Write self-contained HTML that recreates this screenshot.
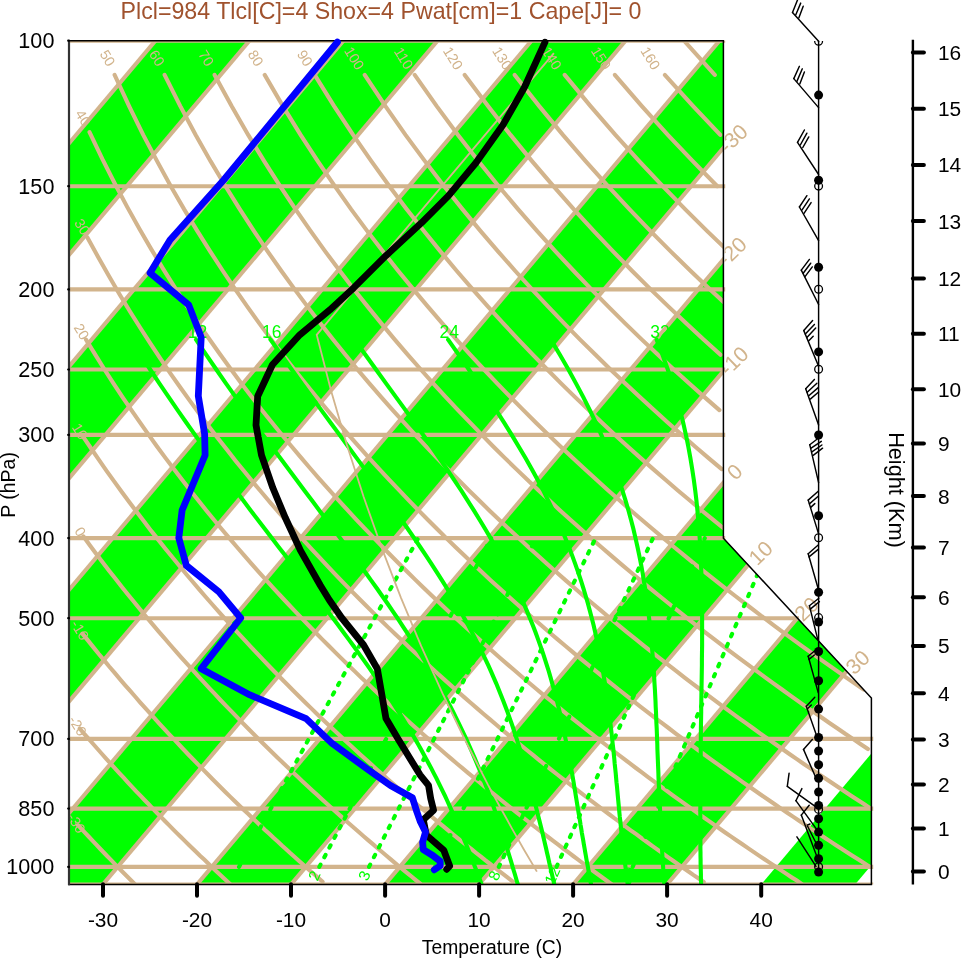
<!DOCTYPE html><html><head><meta charset="utf-8"><title>Skew-T</title><style>html,body{margin:0;padding:0;background:#fff}svg{display:block}</style></head><body><svg width="961" height="958" viewBox="0 0 961 958" font-family="Liberation Sans, sans-serif">
<clipPath id="rlab"><rect x="724.6" y="0" width="300" height="958"/></clipPath>
<clipPath id="clip"><polygon points="69.0,884.4 69.0,40.7 723.7,40.7 723.7,538.2 871.7,698.1 871.7,884.4"/></clipPath>
<g clip-path="url(#clip)">
<polygon points="-595.5,932.3 222.8,-39.3 316.8,-39.3 -501.5,932.3" fill="#00ff00"/>
<polygon points="-407.5,932.3 410.8,-39.3 504.9,-39.3 -313.5,932.3" fill="#00ff00"/>
<polygon points="-219.4,932.3 598.9,-39.3 692.9,-39.3 -125.4,932.3" fill="#00ff00"/>
<polygon points="-31.4,932.3 786.9,-39.3 881.0,-39.3 62.6,932.3" fill="#00ff00"/>
<polygon points="156.7,932.3 975.0,-39.3 1069.0,-39.3 250.7,932.3" fill="#00ff00"/>
<polygon points="344.7,932.3 1163.0,-39.3 1257.1,-39.3 438.7,932.3" fill="#00ff00"/>
<polygon points="532.8,932.3 1351.1,-39.3 1445.1,-39.3 626.8,932.3" fill="#00ff00"/>
<polygon points="720.8,932.3 1539.1,-39.3 1633.2,-39.3 814.8,932.3" fill="#00ff00"/>
<g fill="none" stroke="#d2b48c" stroke-width="4.1">
<polyline points="-595.5,932.3 222.8,-39.3"/>
<polyline points="-501.5,932.3 316.8,-39.3"/>
<polyline points="-407.5,932.3 410.8,-39.3"/>
<polyline points="-313.5,932.3 504.9,-39.3"/>
<polyline points="-219.4,932.3 598.9,-39.3"/>
<polyline points="-125.4,932.3 692.9,-39.3"/>
<polyline points="-31.4,932.3 786.9,-39.3"/>
<polyline points="62.6,932.3 881.0,-39.3"/>
<polyline points="156.7,932.3 975.0,-39.3"/>
<polyline points="250.7,932.3 1069.0,-39.3"/>
<polyline points="344.7,932.3 1163.0,-39.3"/>
<polyline points="438.7,932.3 1257.1,-39.3"/>
<polyline points="532.8,932.3 1351.1,-39.3"/>
<polyline points="626.8,932.3 1445.1,-39.3"/>
</g>
</g>
<g clip-path="url(#rlab)">
<text x="733.4" y="138.8" font-size="21.3" fill="#d2b48c" text-anchor="middle" dominant-baseline="central" transform="rotate(-44.0 733.4 138.8)">-30</text>
</g>
<g clip-path="url(#rlab)">
<text x="732.3" y="251.8" font-size="21.3" fill="#d2b48c" text-anchor="middle" dominant-baseline="central" transform="rotate(-44.0 732.3 251.8)">-20</text>
</g>
<g clip-path="url(#rlab)">
<text x="734.1" y="361.3" font-size="21.3" fill="#d2b48c" text-anchor="middle" dominant-baseline="central" transform="rotate(-44.0 734.1 361.3)">-10</text>
</g>
<g clip-path="url(#rlab)">
<text x="735.0" y="472.2" font-size="21.3" fill="#d2b48c" text-anchor="middle" dominant-baseline="central" transform="rotate(-44.0 735.0 472.2)">0</text>
</g>
<g clip-path="url(#rlab)">
<text x="760.9" y="553.3" font-size="21.3" fill="#d2b48c" text-anchor="middle" dominant-baseline="central" transform="rotate(-44.0 760.9 553.3)">10</text>
</g>
<g clip-path="url(#rlab)">
<text x="806.8" y="609.2" font-size="21.3" fill="#d2b48c" text-anchor="middle" dominant-baseline="central" transform="rotate(-44.0 806.8 609.2)">20</text>
</g>
<g clip-path="url(#rlab)">
<text x="858.0" y="662.4" font-size="21.3" fill="#d2b48c" text-anchor="middle" dominant-baseline="central" transform="rotate(-44.0 858.0 662.4)">30</text>
</g>
<g fill="none" stroke="#d2b48c" stroke-width="4.1">
<polyline points="69.0,883.4 873.2,883.4" stroke-width="2"/>
<polyline points="69.0,866.9 873.2,866.9"/>
<polyline points="69.0,808.6 873.2,808.6"/>
<polyline points="69.0,738.9 873.2,738.9"/>
<polyline points="69.0,618.2 798.9,618.2"/>
<polyline points="69.0,538.1 725.2,538.1"/>
<polyline points="69.0,434.9 725.2,434.9"/>
<polyline points="69.0,369.5 725.2,369.5"/>
<polyline points="69.0,289.4 725.2,289.4"/>
<polyline points="69.0,186.2 725.2,186.2"/>
<polyline points="69.0,41.7 725.2,41.7" stroke-width="2"/>
</g>
<g clip-path="url(#clip)"><g fill="none" stroke="#d2b48c" stroke-width="4.1" stroke-linecap="round">
<polyline points="78.0,825.1 81.7,829.1 85.4,833.1 89.1,837.0 92.7,840.9 96.3,844.7 99.9,848.5 103.5,852.2 107.1,856.0 110.7,859.6 114.2,863.3 117.7,866.9 121.2,870.5 124.7,874.0 128.2,877.5 131.7,881.0 135.1,884.4"/>
<polyline points="79.7,728.5 84.2,733.8 88.7,738.9 93.2,744.0 97.6,749.0 102.0,754.0 106.3,758.9 110.7,763.7 115.0,768.4 119.3,773.1 123.6,777.7 127.8,782.3 132.0,786.8 136.2,791.3 140.4,795.7 144.5,800.0 148.7,804.3 152.8,808.6 156.8,812.8 160.9,816.9 164.9,821.0 169.0,825.1 172.9,829.1 176.9,833.1 180.9,837.0 184.8,840.9 188.7,844.7 192.6,848.5 196.5,852.2 200.3,856.0 204.2,859.6 208.0,863.3 211.8,866.9 215.5,870.5 219.3,874.0 223.0,877.5 226.8,881.0 230.5,884.4"/>
<polyline points="82.4,633.6 87.9,640.4 93.3,647.1 98.6,653.7 104.0,660.1 109.2,666.5 114.5,672.7 119.7,678.8 124.8,684.8 130.0,690.7 135.1,696.5 140.1,702.3 145.1,707.9 150.1,713.4 155.1,718.9 160.0,724.3 164.9,729.6 169.7,734.8 174.6,739.9 179.4,745.0 184.1,750.0 188.8,755.0 193.5,759.8 198.2,764.6 202.9,769.4 207.5,774.0 212.1,778.7 216.6,783.2 221.1,787.7 225.6,792.2 230.1,796.6 234.6,800.9 239.0,805.2 243.4,809.4 247.8,813.6 252.1,817.8 256.5,821.8 260.8,825.9 265.0,829.9 269.3,833.8 273.5,837.8 277.7,841.6 281.9,845.5 286.1,849.2 290.2,853.0 294.4,856.7 298.5,860.4 302.5,864.0 306.6,867.6 310.6,871.2 314.7,874.7 318.7,878.2 322.6,881.7"/>
<polyline points="83.3,536.3 89.8,545.2 96.3,553.9 102.8,562.4 109.1,570.7 115.5,578.8 121.7,586.7 127.9,594.5 134.1,602.0 140.2,609.5 146.2,616.8 152.2,623.9 158.1,630.9 164.0,637.7 169.9,644.5 175.7,651.1 181.4,657.6 187.1,663.9 192.8,670.2 198.4,676.4 204.0,682.4 209.5,688.4 215.0,694.2 220.4,700.0 225.8,705.6 231.2,711.2 236.5,716.7 241.8,722.1 247.1,727.5 252.3,732.7 257.5,737.9 262.6,743.0 267.7,748.0 272.8,753.0 277.9,757.9 282.9,762.7 287.9,767.5 292.8,772.2 297.7,776.8 302.6,781.4 307.5,785.9 312.3,790.4 317.1,794.8 321.9,799.2 326.6,803.5 331.3,807.7 336.0,811.9 340.7,816.1 345.3,820.2 349.9,824.3 354.5,828.3 359.1,832.3 363.6,836.2 368.1,840.1 372.6,843.9 377.0,847.7 381.5,851.5 385.9,855.2 390.2,858.9 394.6,862.6 398.9,866.2 403.3,869.8 407.6,873.3 411.8,876.8 416.1,880.3 420.3,883.7"/>
<polyline points="83.6,437.3 91.5,449.0 99.3,460.3 106.9,471.3 114.5,481.9 122.0,492.3 129.4,502.3 136.8,512.1 144.1,521.6 151.2,530.9 158.4,539.9 165.4,548.7 172.4,557.3 179.3,565.7 186.1,574.0 192.9,582.0 199.6,589.8 206.2,597.5 212.8,605.0 219.3,612.4 225.8,619.6 232.2,626.7 238.6,633.6 244.9,640.4 251.1,647.1 257.3,653.7 263.4,660.1 269.5,666.5 275.6,672.7 281.5,678.8 287.5,684.8 293.4,690.7 299.2,696.5 305.0,702.3 310.8,707.9 316.5,713.4 322.2,718.9 327.8,724.3 333.4,729.6 339.0,734.8 344.5,739.9 350.0,745.0 355.4,750.0 360.8,755.0 366.2,759.8 371.5,764.6 376.8,769.4 382.1,774.0 387.3,778.7 392.5,783.2 397.7,787.7 402.8,792.2 407.9,796.6 413.0,800.9 418.0,805.2 423.0,809.4 428.0,813.6 433.0,817.8 437.9,821.8 442.8,825.9 447.6,829.9 452.4,833.8 457.3,837.8 462.0,841.6 466.8,845.5 471.5,849.2 476.2,853.0 480.9,856.7 485.5,860.4 490.2,864.0 494.8,867.6 499.3,871.2 503.9,874.7 508.4,878.2 512.9,881.7"/>
<polyline points="86.0,339.6 95.4,354.8 104.5,369.5 113.6,383.6 122.5,397.1 131.4,410.1 140.1,422.7 148.7,434.9 157.2,446.7 165.6,458.1 173.9,469.1 182.1,479.8 190.2,490.2 198.2,500.3 206.1,510.2 213.9,519.7 221.6,529.0 229.3,538.1 236.9,547.0 244.4,555.6 251.8,564.1 259.1,572.3 266.4,580.4 273.6,588.3 280.7,596.0 287.7,603.5 294.7,610.9 301.6,618.2 308.5,625.3 315.3,632.3 322.0,639.1 328.7,645.8 335.3,652.4 341.9,658.9 348.4,665.2 354.8,671.4 361.2,677.6 367.6,683.6 373.8,689.5 380.1,695.4 386.3,701.1 392.4,706.8 398.5,712.3 404.6,717.8 410.6,723.2 416.5,728.5 422.5,733.8 428.3,738.9 434.2,744.0 440.0,749.0 445.7,754.0 451.4,758.9 457.1,763.7 462.7,768.4 468.3,773.1 473.9,777.7 479.4,782.3 484.9,786.8 490.3,791.3 495.7,795.7 501.1,800.0 506.5,804.3 511.8,808.6 517.1,812.8 522.3,816.9 527.5,821.0 532.7,825.1 537.9,829.1 543.0,833.1 548.1,837.0 553.2,840.9 558.2,844.7 563.2,848.5 568.2,852.2 573.2,856.0 578.1,859.6 583.0,863.3 587.9,866.9 592.7,870.5 597.5,874.0 602.3,877.5 607.1,881.0 611.9,884.4"/>
<polyline points="87.4,237.4 98.4,257.5 109.2,276.6 119.8,294.8 130.3,312.0 140.7,328.5 150.8,344.2 160.9,359.3 170.7,373.8 180.5,387.7 190.1,401.1 199.5,414.0 208.9,426.4 218.1,438.5 227.2,450.1 236.1,461.4 245.0,472.3 253.7,483.0 262.4,493.3 270.9,503.3 279.4,513.1 287.7,522.5 295.9,531.8 304.1,540.8 312.1,549.6 320.1,558.2 328.0,566.6 335.8,574.8 343.5,582.8 351.1,590.6 358.7,598.3 366.2,605.8 373.6,613.1 380.9,620.3 388.2,627.4 395.4,634.3 402.6,641.1 409.6,647.8 416.7,654.3 423.6,660.8 430.5,667.1 437.3,673.3 444.1,679.4 450.8,685.4 457.5,691.3 464.1,697.1 470.6,702.8 477.1,708.4 483.6,714.0 490.0,719.4 496.3,724.8 502.6,730.1 508.9,735.3 515.1,740.5 521.3,745.5 527.4,750.5 533.5,755.4 539.5,760.3 545.5,765.1 551.4,769.8 557.3,774.5 563.2,779.1 569.0,783.7 574.8,788.2 580.6,792.6 586.3,797.0 592.0,801.3 597.6,805.6 603.2,809.8 608.8,814.0 614.3,818.2 619.8,822.2 625.3,826.3 630.7,830.3 636.2,834.2 641.5,838.1 646.9,842.0 652.2,845.8 657.5,849.6 662.7,853.4 667.9,857.1 673.1,860.7 678.3,864.4 683.4,868.0 688.5,871.5 693.6,875.1 698.7,878.5 703.7,882.0"/>
<polyline points="89.5,132.1 102.3,158.9 114.9,183.8 127.3,207.1 139.5,229.0 151.5,249.6 163.3,269.1 174.9,287.6 186.2,305.2 197.4,322.0 208.5,338.0 219.3,353.3 230.0,368.0 240.5,382.2 250.8,395.8 261.0,408.9 271.1,421.5 281.0,433.7 290.8,445.5 300.4,456.9 309.9,468.0 319.3,478.8 328.5,489.2 337.7,499.3 346.7,509.2 355.6,518.8 364.4,528.1 373.1,537.2 381.7,546.1 390.2,554.8 398.6,563.2 407.0,571.5 415.2,579.6 423.3,587.5 431.4,595.2 439.4,602.8 447.3,610.2 455.1,617.5 462.8,624.6 470.5,631.6 478.1,638.4 485.6,645.1 493.1,651.7 500.4,658.2 507.8,664.6 515.0,670.8 522.2,677.0 529.3,683.0 536.4,689.0 543.4,694.8 550.4,700.5 557.3,706.2 564.1,711.8 570.9,717.3 577.6,722.7 584.3,728.0 590.9,733.2 597.5,738.4 604.0,743.5 610.5,748.5 616.9,753.5 623.3,758.4 629.6,763.2 635.9,768.0 642.2,772.6 648.4,777.3 654.6,781.9 660.7,786.4 666.8,790.8 672.8,795.3 678.8,799.6 684.8,803.9 690.7,808.2 696.6,812.4 702.4,816.5 708.3,820.6 714.0,824.7 719.8,828.7 725.5,832.7 731.2,836.6 736.8,840.5 742.4,844.3 748.0,848.1 753.5,851.9 759.0,855.6 764.5,859.3 770.0,862.9 775.4,866.5 780.8,870.1 786.1,873.6 791.5,877.2 796.8,880.6 802.0,884.1"/>
<polyline points="114.6,74.9 129.1,106.1 143.2,134.9 157.2,161.4 170.8,186.2 184.2,209.4 197.4,231.1 210.3,251.6 222.9,271.0 235.3,289.4 247.5,306.9 259.5,323.6 271.3,339.6 282.9,354.8 294.3,369.5 305.5,383.6 316.5,397.1 327.4,410.1 338.1,422.7 348.6,434.9 359.0,446.7 369.2,458.1 379.3,469.1 389.3,479.8 399.1,490.2 408.8,500.3 418.3,510.2 427.8,519.7 437.1,529.0 446.3,538.1 455.4,547.0 464.4,555.6 473.3,564.1 482.1,572.3 490.8,580.4 499.5,588.3 508.0,596.0 516.4,603.5 524.7,610.9 533.0,618.2 541.2,625.3 549.2,632.3 557.3,639.1 565.2,645.8 573.1,652.4 580.8,658.9 588.6,665.2 596.2,671.4 603.8,677.6 611.3,683.6 618.7,689.5 626.1,695.4 633.4,701.1 640.7,706.8 647.9,712.3 655.0,717.8 662.1,723.2 669.2,728.5 676.1,733.8 683.0,738.9 689.9,744.0 696.7,749.0 703.5,754.0 710.2,758.9 716.9,763.7 723.5,768.4 730.1,773.1 736.6,777.7 743.1,782.3 749.5,786.8 755.9,791.3 762.3,795.7 768.6,800.0 774.8,804.3 781.1,808.6 787.2,812.8 793.4,816.9 799.5,821.0 805.6,825.1 811.6,829.1 817.6,833.1 823.5,837.0 829.5,840.9 835.3,844.7 841.2,848.5 847.0,852.2 852.8,856.0 858.5,859.6 864.3,863.3 869.9,866.9"/>
<polyline points="164.6,74.9 180.3,106.1 195.7,134.9 210.7,161.4 225.5,186.2 239.9,209.4 254.0,231.1 267.8,251.6 281.4,271.0 294.7,289.4 307.7,306.9 320.5,323.6 333.1,339.6 345.4,354.8 357.5,369.5 369.5,383.6 381.2,397.1 392.7,410.1 404.1,422.7 415.2,434.9 426.2,446.7 437.1,458.1 447.8,469.1 458.3,479.8 468.7,490.2 479.0,500.3 489.1,510.2 499.1,519.7 508.9,529.0 518.7,538.1 528.3,547.0 537.8,555.6 547.2,564.1 556.5,572.3 565.7,580.4 574.8,588.3 583.7,596.0 592.6,603.5 601.4,610.9 610.1,618.2 618.7,625.3 627.2,632.3 635.7,639.1 644.0,645.8 652.3,652.4 660.5,658.9 668.6,665.2 676.7,671.4 684.6,677.6 692.5,683.6 700.4,689.5 708.1,695.4 715.8,701.1 723.5,706.8 731.0,712.3 738.5,717.8 746.0,723.2 753.4,728.5 760.7,733.8 768.0,738.9 775.2,744.0 782.3,749.0 789.4,754.0 796.5,758.9 803.5,763.7 810.4,768.4 817.3,773.1 824.2,777.7 831.0,782.3 837.7,786.8 844.4,791.3 851.1,795.7 857.7,800.0 864.3,804.3 870.8,808.6"/>
<polyline points="214.6,74.9 231.6,106.1 248.2,134.9 264.3,161.4 280.1,186.2 295.6,209.4 310.7,231.1 325.4,251.6 339.9,271.0 354.0,289.4 367.9,306.9 381.5,323.6 394.8,339.6 407.9,354.8 420.8,369.5 433.4,383.6 445.8,397.1 458.0,410.1 470.1,422.7 481.9,434.9 493.5,446.7 505.0,458.1 516.3,469.1 527.4,479.8 538.4,490.2 549.2,500.3 559.8,510.2 570.4,519.7 580.8,529.0 591.0,538.1 601.2,547.0 611.2,555.6 621.1,564.1 630.8,572.3 640.5,580.4 650.1,588.3 659.5,596.0 668.8,603.5 678.1,610.9 687.2,618.2 696.3,625.3 705.2,632.3 714.1,639.1 722.9,645.8 731.5,652.4 740.2,658.9 748.7,665.2 757.1,671.4 765.5,677.6 773.8,683.6 782.0,689.5 790.1,695.4 798.2,701.1 806.2,706.8 814.2,712.3 822.0,717.8 829.8,723.2 837.6,728.5 845.2,733.8 852.9,738.9 860.4,744.0 867.9,749.0"/>
<polyline points="264.7,74.9 282.9,106.1 300.6,134.9 317.9,161.4 334.8,186.2 351.2,209.4 367.3,231.1 383.0,251.6 398.3,271.0 413.4,289.4 428.1,306.9 442.5,323.6 456.6,339.6 470.4,354.8 484.0,369.5 497.4,383.6 510.5,397.1 523.4,410.1 536.0,422.7 548.5,434.9 560.8,446.7 572.8,458.1 584.7,469.1 596.5,479.8 608.0,490.2 619.4,500.3 630.6,510.2 641.7,519.7 652.6,529.0 663.4,538.1 674.0,547.0 684.5,555.6 694.9,564.1 705.2,572.3 715.3,580.4 725.4,588.3 735.3,596.0 745.1,603.5 754.8,610.9 764.3,618.2 773.8,625.3 783.2,632.3 792.5,639.1 801.7,645.8 810.8,652.4 819.8,658.9 828.7,665.2 837.6,671.4 846.3,677.6 855.0,683.6 863.6,689.5"/>
<polyline points="314.7,74.9 334.1,106.1 353.1,134.9 371.5,161.4 389.4,186.2 406.9,209.4 423.9,231.1 440.6,251.6 456.8,271.0 472.7,289.4 488.2,306.9 503.5,323.6 518.4,339.6 533.0,354.8 547.3,369.5 561.3,383.6 575.1,397.1 588.7,410.1 602.0,422.7 615.1,434.9 628.0,446.7 640.7,458.1 653.2,469.1 665.5,479.8 677.6,490.2 689.6,500.3 701.4,510.2 713.0,519.7 724.4,529.0"/>
<polyline points="364.7,74.9 385.4,106.1 405.5,134.9 425.1,161.4 444.1,186.2 462.6,209.4 480.6,231.1 498.2,251.6 515.3,271.0 532.0,289.4 548.4,306.9 564.4,323.6 580.1,339.6 595.5,354.8 610.5,369.5 625.3,383.6 639.8,397.1 654.0,410.1 668.0,422.7 681.8,434.9 695.3,446.7 708.6,458.1 721.7,469.1"/>
<polyline points="414.7,74.9 436.7,106.1 458.0,134.9 478.7,161.4 498.7,186.2 518.2,209.4 537.2,231.1 555.7,251.6 573.8,271.0 591.4,289.4 608.6,306.9 625.4,323.6 641.9,339.6 658.0,354.8 673.8,369.5 689.3,383.6 704.5,397.1 719.4,410.1"/>
<polyline points="464.7,74.9 488.0,106.1 510.5,134.9 532.2,161.4 553.4,186.2 573.9,209.4 593.9,231.1 613.3,251.6 632.2,271.0 650.7,289.4 668.8,306.9 686.4,323.6 703.6,339.6 720.5,354.8"/>
<polyline points="514.7,74.9 539.2,106.1 562.9,134.9 585.8,161.4 608.0,186.2 629.6,209.4 650.5,231.1 670.9,251.6 690.7,271.0 710.1,289.4 728.9,306.9"/>
<polyline points="564.7,74.9 590.5,106.1 615.4,134.9 639.4,161.4 662.7,186.2 685.3,209.4 707.2,231.1 728.5,251.6"/>
<polyline points="614.8,74.9 641.8,106.1 667.8,134.9 693.0,161.4 717.3,186.2"/>
<polyline points="664.8,74.9 693.1,106.1 720.3,134.9"/>
<polyline points="684.0,40.7 714.8,74.9"/>
</g></g>
<text x="76.4" y="823.1" font-size="14.3" fill="#d2b48c" text-anchor="middle" dominant-baseline="central" transform="rotate(58.0 76.4 823.1)">-30</text>
<text x="77.7" y="725.9" font-size="14.3" fill="#d2b48c" text-anchor="middle" dominant-baseline="central" transform="rotate(58.0 77.7 725.9)">-20</text>
<text x="80.0" y="630.2" font-size="14.3" fill="#d2b48c" text-anchor="middle" dominant-baseline="central" transform="rotate(58.0 80.0 630.2)">-10</text>
<text x="80.3" y="531.8" font-size="14.3" fill="#d2b48c" text-anchor="middle" dominant-baseline="central" transform="rotate(58.0 80.3 531.8)">0</text>
<text x="80.0" y="431.3" font-size="14.3" fill="#d2b48c" text-anchor="middle" dominant-baseline="central" transform="rotate(58.0 80.0 431.3)">10</text>
<text x="81.6" y="331.7" font-size="14.3" fill="#d2b48c" text-anchor="middle" dominant-baseline="central" transform="rotate(58.0 81.6 331.7)">20</text>
<text x="82.2" y="226.9" font-size="14.3" fill="#d2b48c" text-anchor="middle" dominant-baseline="central" transform="rotate(58.0 82.2 226.9)">30</text>
<text x="83.3" y="117.9" font-size="14.3" fill="#d2b48c" text-anchor="middle" dominant-baseline="central" transform="rotate(58.0 83.3 117.9)">40</text>
<text x="107.6" y="58.2" font-size="14.3" fill="#d2b48c" text-anchor="middle" dominant-baseline="central" transform="rotate(58.0 107.6 58.2)">50</text>
<text x="157.0" y="58.2" font-size="14.3" fill="#d2b48c" text-anchor="middle" dominant-baseline="central" transform="rotate(58.0 157.0 58.2)">60</text>
<text x="206.3" y="58.2" font-size="14.3" fill="#d2b48c" text-anchor="middle" dominant-baseline="central" transform="rotate(58.0 206.3 58.2)">70</text>
<text x="255.7" y="58.2" font-size="14.3" fill="#d2b48c" text-anchor="middle" dominant-baseline="central" transform="rotate(58.0 255.7 58.2)">80</text>
<text x="305.0" y="58.2" font-size="14.3" fill="#d2b48c" text-anchor="middle" dominant-baseline="central" transform="rotate(58.0 305.0 58.2)">90</text>
<text x="354.4" y="58.2" font-size="14.3" fill="#d2b48c" text-anchor="middle" dominant-baseline="central" transform="rotate(58.0 354.4 58.2)">100</text>
<text x="403.7" y="58.2" font-size="14.3" fill="#d2b48c" text-anchor="middle" dominant-baseline="central" transform="rotate(58.0 403.7 58.2)">110</text>
<text x="453.1" y="58.2" font-size="14.3" fill="#d2b48c" text-anchor="middle" dominant-baseline="central" transform="rotate(58.0 453.1 58.2)">120</text>
<text x="502.4" y="58.2" font-size="14.3" fill="#d2b48c" text-anchor="middle" dominant-baseline="central" transform="rotate(58.0 502.4 58.2)">130</text>
<text x="551.8" y="58.2" font-size="14.3" fill="#d2b48c" text-anchor="middle" dominant-baseline="central" transform="rotate(58.0 551.8 58.2)">140</text>
<text x="601.1" y="58.2" font-size="14.3" fill="#d2b48c" text-anchor="middle" dominant-baseline="central" transform="rotate(58.0 601.1 58.2)">150</text>
<text x="650.5" y="58.2" font-size="14.3" fill="#d2b48c" text-anchor="middle" dominant-baseline="central" transform="rotate(58.0 650.5 58.2)">160</text>
<g clip-path="url(#clip)"><g fill="none" stroke="#00ff00" stroke-width="4.1" stroke-linecap="round">
<polyline points="701.1,884.4 701.0,881.0 700.9,877.5 700.9,874.0 700.8,870.5 700.7,866.9 700.6,863.3 700.6,859.6 700.5,856.0 700.5,852.2 700.4,848.5 700.4,844.7 700.4,840.9 700.3,837.0 700.3,833.1 700.3,829.1 700.3,825.1 700.3,821.0 700.3,816.9 700.3,812.8 700.3,808.6 700.4,804.3 700.4,800.0 700.4,795.7 700.4,791.3 700.5,786.8 700.5,782.3 700.5,777.7 700.6,773.1 700.6,768.4 700.7,763.7 700.7,758.9 700.7,754.0 700.8,749.0 700.8,744.0 700.8,738.9 700.9,733.8 700.9,728.5 701.0,723.2 701.1,717.8 701.2,712.3 701.2,706.8 701.3,701.1 701.4,695.4 701.5,689.5 701.6,683.6 701.7,677.6 701.8,671.4 701.9,665.2 701.9,658.9 702.0,652.4 702.1,645.8 702.1,639.1 702.1,632.3 702.1,625.3 702.1,618.2 702.1,610.9 702.0,603.5 701.9,596.0 701.8,588.3 701.6,580.4 701.3,572.3 701.0,564.1 700.6,555.6 700.2,547.0 699.7,538.1 699.0,529.0 698.3,519.7 697.4,510.2 696.4,500.3 695.2,490.2 693.8,479.8 692.2,469.1 690.4,458.1 688.3,446.7 685.9,434.9 683.2,422.7 680.0,410.1 676.5,397.1 672.4,383.6 667.8,369.5 662.5,354.8 656.6,339.6"/>
<polyline points="664.3,884.4 664.1,881.0 663.8,877.5 663.6,874.0 663.3,870.5 663.1,866.9 662.9,863.3 662.6,859.6 662.4,856.0 662.2,852.2 662.0,848.5 661.8,844.7 661.6,840.9 661.4,837.0 661.2,833.1 661.0,829.1 660.8,825.1 660.6,821.0 660.4,816.9 660.2,812.8 660.0,808.6 659.8,804.3 659.6,800.0 659.4,795.7 659.2,791.3 658.9,786.8 658.7,782.3 658.5,777.7 658.4,773.1 658.2,768.4 658.0,763.7 657.8,758.9 657.6,754.0 657.4,749.0 657.3,744.0 657.1,738.9 656.9,733.8 656.7,728.5 656.4,723.2 656.2,717.8 656.0,712.3 655.7,706.8 655.5,701.1 655.2,695.4 654.9,689.5 654.5,683.6 654.2,677.6 653.8,671.4 653.3,665.2 652.9,658.9 652.4,652.4 651.8,645.8 651.2,639.1 650.6,632.3 649.9,625.3 649.1,618.2 648.2,610.9 647.3,603.5 646.2,596.0 645.1,588.3 643.8,580.4 642.5,572.3 641.0,564.1 639.3,555.6 637.5,547.0 635.5,538.1 633.4,529.0 631.0,519.7 628.4,510.2 625.5,500.3 622.3,490.2 618.8,479.8 615.0,469.1 610.9,458.1 606.3,446.7 601.3,434.9 595.8,422.7 589.8,410.1 583.3,397.1 576.1,383.6 568.4,369.5 559.9,354.8 550.8,339.6"/>
<polyline points="627.7,884.4 627.3,881.0 626.8,877.5 626.4,874.0 625.9,870.5 625.5,866.9 625.0,863.3 624.6,859.6 624.2,856.0 623.7,852.2 623.3,848.5 622.9,844.7 622.4,840.9 622.0,837.0 621.5,833.1 621.1,829.1 620.7,825.1 620.3,821.0 619.8,816.9 619.4,812.8 619.0,808.6 618.6,804.3 618.2,800.0 617.8,795.7 617.4,791.3 617.0,786.8 616.5,782.3 616.1,777.7 615.7,773.1 615.2,768.4 614.7,763.7 614.3,758.9 613.8,754.0 613.3,749.0 612.7,744.0 612.2,738.9 611.6,733.8 611.0,728.5 610.4,723.2 609.8,717.8 609.1,712.3 608.3,706.8 607.6,701.1 606.8,695.4 605.9,689.5 605.0,683.6 604.0,677.6 603.0,671.4 601.9,665.2 600.7,658.9 599.5,652.4 598.2,645.8 596.7,639.1 595.2,632.3 593.6,625.3 591.8,618.2 589.9,610.9 587.9,603.5 585.7,596.0 583.4,588.3 580.9,580.4 578.2,572.3 575.3,564.1 572.2,555.6 568.9,547.0 565.3,538.1 561.5,529.0 557.3,519.7 552.9,510.2 548.1,500.3 543.1,490.2 537.6,479.8 531.7,469.1 525.5,458.1 518.8,446.7 511.7,434.9 504.1,422.7 496.1,410.1 487.5,397.1 478.5,383.6 468.9,369.5 458.8,354.8 448.1,339.6"/>
<polyline points="591.1,884.4 590.4,881.0 589.8,877.5 589.2,874.0 588.5,870.5 587.9,866.9 587.2,863.3 586.5,859.6 585.9,856.0 585.2,852.2 584.6,848.5 583.9,844.7 583.3,840.9 582.6,837.0 581.9,833.1 581.3,829.1 580.6,825.1 580.0,821.0 579.3,816.9 578.6,812.8 577.9,808.6 577.2,804.3 576.5,800.0 575.8,795.7 575.1,791.3 574.3,786.8 573.6,782.3 572.8,777.7 572.0,773.1 571.1,768.4 570.3,763.7 569.4,758.9 568.5,754.0 567.5,749.0 566.6,744.0 565.5,738.9 564.5,733.8 563.3,728.5 562.2,723.2 561.0,717.8 559.7,712.3 558.4,706.8 557.0,701.1 555.5,695.4 553.9,689.5 552.3,683.6 550.6,677.6 548.8,671.4 546.8,665.2 544.8,658.9 542.7,652.4 540.4,645.8 538.0,639.1 535.5,632.3 532.8,625.3 529.9,618.2 526.9,610.9 523.7,603.5 520.4,596.0 516.8,588.3 513.0,580.4 509.0,572.3 504.7,564.1 500.2,555.6 495.5,547.0 490.5,538.1 485.2,529.0 479.6,519.7 473.7,510.2 467.5,500.3 461.0,490.2 454.1,479.8 446.9,469.1 439.3,458.1 431.4,446.7 423.2,434.9 414.5,422.7 405.5,410.1 396.0,397.1 386.2,383.6 376.0,369.5 365.4,354.8 354.3,339.6"/>
<polyline points="554.3,884.4 553.5,881.0 552.7,877.5 551.9,874.0 551.1,870.5 550.3,866.9 549.4,863.3 548.6,859.6 547.8,856.0 546.9,852.2 546.1,848.5 545.2,844.7 544.3,840.9 543.4,837.0 542.5,833.1 541.5,829.1 540.5,825.1 539.5,821.0 538.5,816.9 537.4,812.8 536.4,808.6 535.3,804.3 534.2,800.0 533.1,795.7 531.9,791.3 530.7,786.8 529.5,782.3 528.3,777.7 527.0,773.1 525.7,768.4 524.3,763.7 522.9,758.9 521.4,754.0 519.9,749.0 518.3,744.0 516.7,738.9 515.0,733.8 513.3,728.5 511.5,723.2 509.5,717.8 507.6,712.3 505.5,706.8 503.3,701.1 501.1,695.4 498.7,689.5 496.3,683.6 493.7,677.6 491.0,671.4 488.2,665.2 485.2,658.9 482.1,652.4 478.9,645.8 475.5,639.1 471.9,632.3 468.2,625.3 464.3,618.2 460.3,610.9 456.0,603.5 451.5,596.0 446.9,588.3 442.0,580.4 436.9,572.3 431.6,564.1 426.0,555.6 420.2,547.0 414.2,538.1 407.9,529.0 401.4,519.7 394.6,510.2 387.6,500.3 380.3,490.2 372.7,479.8 364.8,469.1 356.7,458.1 348.3,446.7 339.6,434.9 330.6,422.7 321.3,410.1 311.8,397.1 301.9,383.6 291.7,369.5 281.3,354.8 270.5,339.6"/>
<polyline points="517.8,884.4 516.8,881.0 515.8,877.5 514.8,874.0 513.7,870.5 512.6,866.9 511.6,863.3 510.5,859.6 509.4,856.0 508.2,852.2 507.1,848.5 505.9,844.7 504.7,840.9 503.5,837.0 502.3,833.1 501.0,829.1 499.7,825.1 498.4,821.0 497.0,816.9 495.6,812.8 494.2,808.6 492.7,804.3 491.2,800.0 489.6,795.7 488.0,791.3 486.3,786.8 484.5,782.3 482.7,777.7 480.9,773.1 479.0,768.4 477.0,763.7 475.0,758.9 472.9,754.0 470.7,749.0 468.5,744.0 466.2,738.9 463.8,733.8 461.3,728.5 458.7,723.2 456.1,717.8 453.3,712.3 450.5,706.8 447.5,701.1 444.5,695.4 441.3,689.5 438.0,683.6 434.6,677.6 431.0,671.4 427.4,665.2 423.5,658.9 419.6,652.4 415.5,645.8 411.2,639.1 406.8,632.3 402.2,625.3 397.5,618.2 392.5,610.9 387.5,603.5 382.2,596.0 376.8,588.3 371.1,580.4 365.3,572.3 359.3,564.1 353.1,555.6 346.7,547.0 340.2,538.1 333.4,529.0 326.4,519.7 319.2,510.2 311.8,500.3 304.2,490.2 296.4,479.8 288.4,469.1 280.2,458.1 271.7,446.7 263.0,434.9 254.1,422.7 245.0,410.1 235.7,397.1 226.1,383.6 216.3,369.5 206.3,354.8 196.0,339.6"/>
<polyline points="481.6,884.4 480.4,881.0 479.1,877.5 477.7,874.0 476.4,870.5 475.0,866.9 473.6,863.3 472.2,859.6 470.8,856.0 469.3,852.2 467.8,848.5 466.3,844.7 464.7,840.9 463.1,837.0 461.5,833.1 459.8,829.1 458.1,825.1 456.4,821.0 454.6,816.9 452.7,812.8 450.8,808.6 448.9,804.3 446.9,800.0 444.9,795.7 442.8,791.3 440.6,786.8 438.4,782.3 436.1,777.7 433.7,773.1 431.3,768.4 428.8,763.7 426.2,758.9 423.5,754.0 420.8,749.0 418.0,744.0 415.0,738.9 412.0,733.8 408.9,728.5 405.7,723.2 402.4,717.8 398.9,712.3 395.4,706.8 391.7,701.1 387.9,695.4 384.0,689.5 380.0,683.6 375.9,677.6 371.6,671.4 367.3,665.2 362.8,658.9 358.1,652.4 353.4,645.8 348.5,639.1 343.4,632.3 338.3,625.3 333.0,618.2 327.5,610.9 321.9,603.5 316.2,596.0 310.3,588.3 304.3,580.4 298.1,572.3 291.8,564.1 285.3,555.6 278.6,547.0 271.8,538.1 264.9,529.0 257.8,519.7 250.5,510.2 243.1,500.3 235.5,490.2 227.7,479.8 219.8,469.1 211.7,458.1 203.4,446.7 195.0,434.9 186.4,422.7 177.6,410.1 168.7,397.1 159.5,383.6 150.2,369.5 140.8,354.8 131.1,339.6"/>
</g></g>
<text x="660.0" y="331.7" font-size="17.5" fill="#00ff00" text-anchor="middle" dominant-baseline="central">32</text>
<text x="552.7" y="331.7" font-size="17.5" fill="#00ff00" text-anchor="middle" dominant-baseline="central">28</text>
<text x="449.2" y="331.7" font-size="17.5" fill="#00ff00" text-anchor="middle" dominant-baseline="central">24</text>
<text x="355.3" y="331.7" font-size="17.5" fill="#00ff00" text-anchor="middle" dominant-baseline="central">20</text>
<text x="271.7" y="331.7" font-size="17.5" fill="#00ff00" text-anchor="middle" dominant-baseline="central">16</text>
<text x="197.5" y="331.7" font-size="17.5" fill="#00ff00" text-anchor="middle" dominant-baseline="central">12</text>
<text x="132.9" y="331.7" font-size="17.5" fill="#00ff00" text-anchor="middle" dominant-baseline="central">8</text>
<g clip-path="url(#clip)"><g fill="none" stroke="#00ff00" stroke-width="4.1" stroke-dasharray="2.6,8.3" stroke-linecap="round">
<polyline points="632.7,866.9 773.0,538.1"/>
<polyline points="556.5,866.9 704.8,538.1"/>
<polyline points="498.8,866.9 653.0,538.1"/>
<polyline points="434.9,866.9 595.6,538.1"/>
<polyline points="369.0,866.9 536.1,538.1"/>
<polyline points="319.3,866.9 491.1,538.1"/>
<polyline points="239.0,866.9 418.2,538.1"/>
</g></g>
<text x="628.6" y="875.5" font-size="15.5" fill="#00ff00" text-anchor="middle" dominant-baseline="central" transform="rotate(-66.0 628.6 875.5)">20</text>
<text x="552.2" y="875.5" font-size="15.5" fill="#00ff00" text-anchor="middle" dominant-baseline="central" transform="rotate(-66.0 552.2 875.5)">12</text>
<text x="494.3" y="875.5" font-size="15.5" fill="#00ff00" text-anchor="middle" dominant-baseline="central" transform="rotate(-66.0 494.3 875.5)">8</text>
<text x="430.2" y="875.5" font-size="15.5" fill="#00ff00" text-anchor="middle" dominant-baseline="central" transform="rotate(-66.0 430.2 875.5)">5</text>
<text x="364.2" y="875.5" font-size="15.5" fill="#00ff00" text-anchor="middle" dominant-baseline="central" transform="rotate(-66.0 364.2 875.5)">3</text>
<text x="314.3" y="875.5" font-size="15.5" fill="#00ff00" text-anchor="middle" dominant-baseline="central" transform="rotate(-66.0 314.3 875.5)">2</text>
<text x="233.8" y="875.5" font-size="15.5" fill="#00ff00" text-anchor="middle" dominant-baseline="central" transform="rotate(-66.0 233.8 875.5)">1</text>
<polyline points="536.9,871.6 524.3,850.2 512.0,828.6 499.9,806.7 487.9,784.6 464.8,739.5 442.5,693.4 421.2,646.1 400.9,597.6 381.7,547.9 363.6,496.8 346.7,444.3 331.0,390.4 316.7,334.8 364.1,278.5 411.6,222.1 459.0,165.8 506.5,109.4 553.9,53.1" fill="none" stroke="#d2b48c" stroke-width="1.8"/>
<polygon points="69.0,884.4 69.0,40.7 723.4,40.7 723.4,538.2 871.4,698.1 871.4,884.4" fill="none" stroke="#000" stroke-width="1.5"/>
<line x1="69.0" y1="39.9" x2="69.0" y2="885.2" stroke="#333" stroke-width="2.2"/>
<line x1="68.2" y1="866.9" x2="69.0" y2="866.9" stroke="#000" stroke-width="2.2" stroke-linecap="round"/>
<text x="54.4" y="866.9" font-size="21.6" fill="#000" text-anchor="end" dominant-baseline="central">1000</text>
<line x1="68.2" y1="808.6" x2="69.0" y2="808.6" stroke="#000" stroke-width="2.2" stroke-linecap="round"/>
<text x="54.4" y="808.6" font-size="21.6" fill="#000" text-anchor="end" dominant-baseline="central">850</text>
<line x1="68.2" y1="738.9" x2="69.0" y2="738.9" stroke="#000" stroke-width="2.2" stroke-linecap="round"/>
<text x="54.4" y="738.9" font-size="21.6" fill="#000" text-anchor="end" dominant-baseline="central">700</text>
<line x1="68.2" y1="618.2" x2="69.0" y2="618.2" stroke="#000" stroke-width="2.2" stroke-linecap="round"/>
<text x="54.4" y="618.2" font-size="21.6" fill="#000" text-anchor="end" dominant-baseline="central">500</text>
<line x1="68.2" y1="538.1" x2="69.0" y2="538.1" stroke="#000" stroke-width="2.2" stroke-linecap="round"/>
<text x="54.4" y="538.1" font-size="21.6" fill="#000" text-anchor="end" dominant-baseline="central">400</text>
<line x1="68.2" y1="434.9" x2="69.0" y2="434.9" stroke="#000" stroke-width="2.2" stroke-linecap="round"/>
<text x="54.4" y="434.9" font-size="21.6" fill="#000" text-anchor="end" dominant-baseline="central">300</text>
<line x1="68.2" y1="369.5" x2="69.0" y2="369.5" stroke="#000" stroke-width="2.2" stroke-linecap="round"/>
<text x="54.4" y="369.5" font-size="21.6" fill="#000" text-anchor="end" dominant-baseline="central">250</text>
<line x1="68.2" y1="289.4" x2="69.0" y2="289.4" stroke="#000" stroke-width="2.2" stroke-linecap="round"/>
<text x="54.4" y="289.4" font-size="21.6" fill="#000" text-anchor="end" dominant-baseline="central">200</text>
<line x1="68.2" y1="186.2" x2="69.0" y2="186.2" stroke="#000" stroke-width="2.2" stroke-linecap="round"/>
<text x="54.4" y="186.2" font-size="21.6" fill="#000" text-anchor="end" dominant-baseline="central">150</text>
<line x1="68.2" y1="40.7" x2="69.0" y2="40.7" stroke="#000" stroke-width="2.2" stroke-linecap="round"/>
<text x="54.4" y="40.7" font-size="21.6" fill="#000" text-anchor="end" dominant-baseline="central">100</text>
<text x="7.7" y="485.0" font-size="19.5" fill="#000" text-anchor="middle" dominant-baseline="central" transform="rotate(-90.0 7.7 485.0)">P (hPa)</text>
<line x1="103.0" y1="884.2" x2="103.0" y2="895.8" stroke="#000" stroke-width="4" stroke-linecap="round"/>
<text x="103.0" y="919.5" font-size="20.9" fill="#000" text-anchor="middle" dominant-baseline="central">-30</text>
<line x1="197.0" y1="884.2" x2="197.0" y2="895.8" stroke="#000" stroke-width="4" stroke-linecap="round"/>
<text x="197.0" y="919.5" font-size="20.9" fill="#000" text-anchor="middle" dominant-baseline="central">-20</text>
<line x1="291.0" y1="884.2" x2="291.0" y2="895.8" stroke="#000" stroke-width="4" stroke-linecap="round"/>
<text x="291.0" y="919.5" font-size="20.9" fill="#000" text-anchor="middle" dominant-baseline="central">-10</text>
<line x1="385.1" y1="884.2" x2="385.1" y2="895.8" stroke="#000" stroke-width="4" stroke-linecap="round"/>
<text x="385.1" y="919.5" font-size="20.9" fill="#000" text-anchor="middle" dominant-baseline="central">0</text>
<line x1="479.1" y1="884.2" x2="479.1" y2="895.8" stroke="#000" stroke-width="4" stroke-linecap="round"/>
<text x="479.1" y="919.5" font-size="20.9" fill="#000" text-anchor="middle" dominant-baseline="central">10</text>
<line x1="573.1" y1="884.2" x2="573.1" y2="895.8" stroke="#000" stroke-width="4" stroke-linecap="round"/>
<text x="573.1" y="919.5" font-size="20.9" fill="#000" text-anchor="middle" dominant-baseline="central">20</text>
<line x1="667.1" y1="884.2" x2="667.1" y2="895.8" stroke="#000" stroke-width="4" stroke-linecap="round"/>
<text x="667.1" y="919.5" font-size="20.9" fill="#000" text-anchor="middle" dominant-baseline="central">30</text>
<line x1="761.2" y1="884.2" x2="761.2" y2="895.8" stroke="#000" stroke-width="4" stroke-linecap="round"/>
<text x="761.2" y="919.5" font-size="20.9" fill="#000" text-anchor="middle" dominant-baseline="central">40</text>
<text x="492.0" y="947.0" font-size="19.3" fill="#000" text-anchor="middle" dominant-baseline="central">Temperature (C)</text>
<text x="381.0" y="10.7" font-size="23.2" fill="#a0522d" text-anchor="middle" dominant-baseline="central">Plcl=984 Tlcl[C]=4 Shox=4 Pwat[cm]=1 Cape[J]= 0</text>
<line x1="912.9" y1="39.7" x2="912.9" y2="884.4" stroke="#000" stroke-width="2.4"/>
<line x1="912.9" y1="871.6" x2="923.9" y2="871.6" stroke="#000" stroke-width="4" stroke-linecap="round"/>
<text x="938.0" y="871.6" font-size="20.9" fill="#000" text-anchor="start" dominant-baseline="central">0</text>
<line x1="912.9" y1="828.6" x2="923.9" y2="828.6" stroke="#000" stroke-width="4" stroke-linecap="round"/>
<text x="938.0" y="828.6" font-size="20.9" fill="#000" text-anchor="start" dominant-baseline="central">1</text>
<line x1="912.9" y1="784.5" x2="923.9" y2="784.5" stroke="#000" stroke-width="4" stroke-linecap="round"/>
<text x="938.0" y="784.5" font-size="20.9" fill="#000" text-anchor="start" dominant-baseline="central">2</text>
<line x1="912.9" y1="739.4" x2="923.9" y2="739.4" stroke="#000" stroke-width="4" stroke-linecap="round"/>
<text x="938.0" y="739.4" font-size="20.9" fill="#000" text-anchor="start" dominant-baseline="central">3</text>
<line x1="912.9" y1="693.2" x2="923.9" y2="693.2" stroke="#000" stroke-width="4" stroke-linecap="round"/>
<text x="938.0" y="693.2" font-size="20.9" fill="#000" text-anchor="start" dominant-baseline="central">4</text>
<line x1="912.9" y1="645.9" x2="923.9" y2="645.9" stroke="#000" stroke-width="4" stroke-linecap="round"/>
<text x="938.0" y="645.9" font-size="20.9" fill="#000" text-anchor="start" dominant-baseline="central">5</text>
<line x1="912.9" y1="597.2" x2="923.9" y2="597.2" stroke="#000" stroke-width="4" stroke-linecap="round"/>
<text x="938.0" y="597.2" font-size="20.9" fill="#000" text-anchor="start" dominant-baseline="central">6</text>
<line x1="912.9" y1="547.4" x2="923.9" y2="547.4" stroke="#000" stroke-width="4" stroke-linecap="round"/>
<text x="938.0" y="547.4" font-size="20.9" fill="#000" text-anchor="start" dominant-baseline="central">7</text>
<line x1="912.9" y1="496.1" x2="923.9" y2="496.1" stroke="#000" stroke-width="4" stroke-linecap="round"/>
<text x="938.0" y="496.1" font-size="20.9" fill="#000" text-anchor="start" dominant-baseline="central">8</text>
<line x1="912.9" y1="443.5" x2="923.9" y2="443.5" stroke="#000" stroke-width="4" stroke-linecap="round"/>
<text x="938.0" y="443.5" font-size="20.9" fill="#000" text-anchor="start" dominant-baseline="central">9</text>
<line x1="912.9" y1="389.3" x2="923.9" y2="389.3" stroke="#000" stroke-width="4" stroke-linecap="round"/>
<text x="938.0" y="389.3" font-size="20.9" fill="#000" text-anchor="start" dominant-baseline="central">10</text>
<line x1="912.9" y1="333.8" x2="923.9" y2="333.8" stroke="#000" stroke-width="4" stroke-linecap="round"/>
<text x="938.0" y="333.8" font-size="20.9" fill="#000" text-anchor="start" dominant-baseline="central">11</text>
<line x1="912.9" y1="278.4" x2="923.9" y2="278.4" stroke="#000" stroke-width="4" stroke-linecap="round"/>
<text x="938.0" y="278.4" font-size="20.9" fill="#000" text-anchor="start" dominant-baseline="central">12</text>
<line x1="912.9" y1="221.1" x2="923.9" y2="221.1" stroke="#000" stroke-width="4" stroke-linecap="round"/>
<text x="938.0" y="221.1" font-size="20.9" fill="#000" text-anchor="start" dominant-baseline="central">13</text>
<line x1="912.9" y1="164.9" x2="923.9" y2="164.9" stroke="#000" stroke-width="4" stroke-linecap="round"/>
<text x="938.0" y="164.9" font-size="20.9" fill="#000" text-anchor="start" dominant-baseline="central">14</text>
<line x1="912.9" y1="108.7" x2="923.9" y2="108.7" stroke="#000" stroke-width="4" stroke-linecap="round"/>
<text x="938.0" y="108.7" font-size="20.9" fill="#000" text-anchor="start" dominant-baseline="central">15</text>
<line x1="912.9" y1="52.4" x2="923.9" y2="52.4" stroke="#000" stroke-width="4" stroke-linecap="round"/>
<text x="938.0" y="52.4" font-size="20.9" fill="#000" text-anchor="start" dominant-baseline="central">16</text>
<text x="896.5" y="490.0" font-size="21.7" fill="#000" text-anchor="middle" dominant-baseline="central" transform="rotate(90.0 896.5 490.0)">Height (Km)</text>
<g stroke="#000" stroke-width="1.45" fill="none" stroke-linecap="round">
<line x1="818.6" y1="41.3" x2="818.6" y2="872.0"/>
<polyline points="818.6,41.3 792.5,12.5"/>
<polyline points="792.5,12.5 797.5,0.0"/>
<polyline points="795.7,15.0 800.7,3.1"/>
<polyline points="798.8,18.1 803.2,6.3"/>
<polyline points="818.6,107.6 793.8,78.6"/>
<polyline points="793.8,78.6 799.4,66.3"/>
<polyline points="796.9,81.4 802.3,68.8"/>
<polyline points="799.8,84.1 804.4,72.0"/>
<polyline points="818.6,174.5 797.5,142.3"/>
<polyline points="797.5,142.3 804.4,130.0"/>
<polyline points="800.3,145.0 806.9,133.2"/>
<polyline points="802.8,147.5 808.8,136.9"/>
<polyline points="818.6,240.7 799.4,207.0"/>
<polyline points="799.4,207.0 806.9,195.7"/>
<polyline points="801.9,210.1 809.4,198.9"/>
<polyline points="804.0,213.3 811.1,202.6"/>
<polyline points="818.6,304.5 801.3,270.1"/>
<polyline points="801.3,270.1 809.4,259.4"/>
<polyline points="803.2,273.2 810.7,263.2"/>
<polyline points="805.0,276.6 812.3,266.9"/>
<polyline points="818.6,366.3 803.8,330.6"/>
<polyline points="803.8,330.6 812.6,320.6"/>
<polyline points="805.3,334.0 814.4,324.4"/>
<polyline points="806.9,337.5 815.7,328.1"/>
<polyline points="808.8,340.7 813.2,336.3"/>
<polyline points="818.6,425.1 805.7,388.8"/>
<polyline points="805.7,388.8 814.4,379.4"/>
<polyline points="807.2,392.3 816.9,383.2"/>
<polyline points="808.8,395.7 818.2,387.6"/>
<polyline points="810.3,399.1 818.6,392.0"/>
<polyline points="818.6,482.6 809.8,444.8"/>
<polyline points="809.8,444.8 817.6,438.8"/>
<polyline points="811.1,448.2 821.3,441.3"/>
<polyline points="811.9,451.9 821.9,445.0"/>
<polyline points="813.2,455.3 822.6,448.2"/>
<polyline points="818.2,532.6 808.2,500.1"/>
<polyline points="808.2,500.1 818.2,491.3"/>
<polyline points="809.4,503.9 818.2,496.3"/>
<polyline points="810.7,507.4 814.8,503.6"/>
<polyline points="818.2,588.8 808.2,553.8"/>
<polyline points="808.2,553.8 818.2,545.0"/>
<polyline points="809.0,556.9 818.2,549.4"/>
<polyline points="817.6,638.9 809.4,605.7"/>
<polyline points="809.4,605.7 818.8,598.2"/>
<polyline points="810.3,609.1 819.4,601.6"/>
<polyline points="818.2,692.6 808.2,656.3"/>
<polyline points="808.2,656.3 815.7,650.0"/>
<polyline points="809.0,659.4 814.4,655.0"/>
<polyline points="816.9,736.4 806.3,706.3"/>
<polyline points="806.3,706.3 814.8,697.3"/>
<polyline points="807.2,709.1 811.3,705.1"/>
<polyline points="816.3,778.8 803.5,749.4"/>
<polyline points="803.5,749.4 812.3,739.4"/>
<polyline points="816.9,807.6 787.3,786.3"/>
<polyline points="787.3,786.3 789.1,773.2"/>
<polyline points="816.3,828.9 795.9,800.7"/>
<polyline points="795.9,800.7 801.9,788.6"/>
<polyline points="816.5,855.4 801.3,815.1"/>
<polyline points="801.3,815.1 809.2,805.2"/>
<polyline points="807.1,825.1 810.0,824.0"/>
<polyline points="816.0,866.3 796.9,836.8"/>
<polyline points="817.0,845.0 807.5,826.0"/>
</g>
<clipPath id="ctop"><rect x="800" y="41" width="40" height="20"/></clipPath>
<circle cx="818.6" cy="41.3" r="3.9" fill="none" stroke="#000" stroke-width="1.3" clip-path="url(#ctop)"/>
<circle cx="818.6" cy="186.1" r="3.9" fill="none" stroke="#000" stroke-width="1.3"/>
<circle cx="818.6" cy="289.2" r="3.9" fill="none" stroke="#000" stroke-width="1.3"/>
<circle cx="818.6" cy="369.2" r="3.9" fill="none" stroke="#000" stroke-width="1.3"/>
<circle cx="818.6" cy="537.8" r="3.9" fill="none" stroke="#000" stroke-width="1.3"/>
<circle cx="818.6" cy="617.6" r="3.9" fill="none" stroke="#000" stroke-width="1.3"/>
<circle cx="818.6" cy="809.4" r="3.9" fill="none" stroke="#000" stroke-width="1.3"/>
<circle cx="818.6" cy="866.8" r="3.9" fill="none" stroke="#000" stroke-width="1.3"/>
<circle cx="818.6" cy="95.1" r="4.5" fill="#000"/>
<circle cx="818.6" cy="180.3" r="4.5" fill="#000"/>
<circle cx="818.6" cy="267.3" r="4.5" fill="#000"/>
<circle cx="818.6" cy="351.9" r="4.5" fill="#000"/>
<circle cx="818.6" cy="435.0" r="4.5" fill="#000"/>
<circle cx="818.6" cy="515.7" r="4.5" fill="#000"/>
<circle cx="818.6" cy="592.3" r="4.5" fill="#000"/>
<circle cx="818.6" cy="622.0" r="4.5" fill="#000"/>
<circle cx="818.6" cy="651.5" r="4.5" fill="#000"/>
<circle cx="818.6" cy="680.7" r="4.5" fill="#000"/>
<circle cx="818.6" cy="709.1" r="4.5" fill="#000"/>
<circle cx="818.6" cy="737.5" r="4.5" fill="#000"/>
<circle cx="818.6" cy="751.0" r="4.5" fill="#000"/>
<circle cx="818.6" cy="764.8" r="4.5" fill="#000"/>
<circle cx="818.6" cy="778.2" r="4.5" fill="#000"/>
<circle cx="818.6" cy="792.0" r="4.5" fill="#000"/>
<circle cx="818.6" cy="805.4" r="4.5" fill="#000"/>
<circle cx="818.6" cy="818.7" r="4.5" fill="#000"/>
<circle cx="818.6" cy="832.1" r="4.5" fill="#000"/>
<circle cx="818.6" cy="845.3" r="4.5" fill="#000"/>
<circle cx="818.6" cy="858.7" r="4.5" fill="#000"/>
<circle cx="818.6" cy="872.1" r="4.5" fill="#000"/>
<polyline points="446.7,869.3 449.7,866.0 446.0,856.2 443.8,850.3 426.3,835.0 423.3,819.7 433.6,810.2 430.7,798.5 428.5,785.3 420.0,774.8 398.7,740.0 386.0,718.6 377.3,668.7 363.6,645.0 341.8,618.0 329.3,600.0 320.4,585.5 300.4,550.4 285.3,517.8 272.8,487.8 261.5,455.2 256.0,425.1 257.7,396.3 265.3,380.0 272.4,364.8 299.8,334.8 329.8,309.9 353.6,287.9 386.2,255.4 421.5,222.8 448.6,195.6 475.8,163.0 502.9,125.0 524.6,87.0 545.0,42.2" fill="none" stroke="#000" stroke-width="6.8" stroke-linejoin="round" stroke-linecap="round"/>
<polyline points="434.3,869.8 440.2,865.7 440.2,861.3 432.8,855.5 423.3,849.6 422.6,842.3 425.5,832.1 420.4,821.8 416.8,811.6 412.4,797.7 390.5,785.6 370.0,771.0 332.3,743.6 306.1,718.6 249.9,694.9 201.2,668.7 240.7,618.0 218.9,591.8 186.3,565.5 178.8,537.9 182.1,510.3 205.1,455.2 204.6,433.9 198.3,396.0 201.2,337.3 188.7,304.9 150.0,272.9 170.0,239.9 223.7,180.0 337.5,42.0" fill="none" stroke="#0000ff" stroke-width="6.8" stroke-linejoin="round" stroke-linecap="round"/>
</svg></body></html>
